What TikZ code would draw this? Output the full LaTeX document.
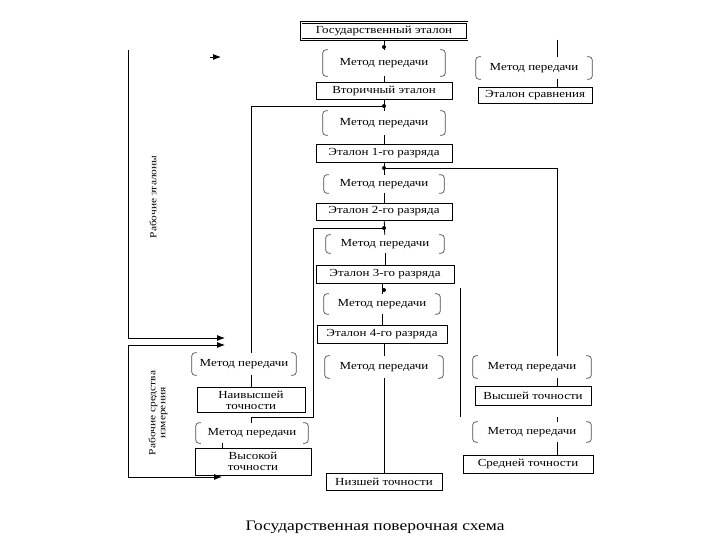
\documentclass[tikz,border=0pt]{standalone}
\usepackage{fontspec}
\setmainfont{Liberation Serif}[FakeStretch=1.2]
\usetikzlibrary{arrows.meta}
\newcommand{\boxfont}{\fontsize{10.8}{11}\selectfont}
\tikzset{box/.style={draw=#1,line width=0.8pt,inner sep=1pt,font=\boxfont,align=center},box/.default=black}
\tikzset{method/.style={inner sep=1pt,font=\boxfont},method/.default=black}
\tikzset{bracket/.style={draw=#1,line width=0.7pt,rounded corners=3pt},bracket/.default=black!70}
\tikzset{link/.style={draw=#1,line width=0.8pt},link/.default=black}
\tikzset{feed/.style={draw=#1,line width=0.8pt,-{Latex[length=8pt,width=6pt]}},feed/.default=black}
\tikzset{side/.style={rotate=90,font=\fontsize{9.5}{10}\selectfont,align=center}}
\newcommand{\brackets}[1]{%
	\draw [bracket] ([xshift=5pt]#1.north west) -- (#1.north west) -- (#1.south west) -- ([xshift=5pt]#1.south west);
	\draw [bracket] ([xshift=-5pt]#1.north east) -- (#1.north east) -- (#1.south east) -- ([xshift=-5pt]#1.south east);}
\newcommand{\junction}[1]{\fill (#1) circle (2pt);}

\begin{document}
\begin{tikzpicture}[x=1pt,y=-1pt]
	\useasboundingbox (0,0) rectangle (720,540);

	% main column
	\node [box,double,double distance=1pt,minimum width=166pt,minimum height=17pt] (gos) at (384,31) {Государственный эталон};
	\node [method,minimum width=122pt,minimum height=26pt] (m1) at (384,63) {Метод передачи};
	\node [box,minimum width=136pt,minimum height=17pt] (vtor) at (384,90.5) {Вторичный эталон};
	\node [method,minimum width=122pt,minimum height=24pt] (m2) at (384,123) {Метод передачи};
	\node [box,minimum width=136pt,minimum height=18pt] (r1) at (384,153) {Эталон 1-го разряда};
	\node [method,minimum width=120pt,minimum height=18pt] (m3) at (384,184) {Метод передачи};
	\node [box,minimum width=136pt,minimum height=17pt] (r2) at (384,211.5) {Эталон 2-го разряда};
	\node [method,minimum width=118pt,minimum height=18pt] (m4) at (385,244) {Метод передачи};
	\node [box,minimum width=138pt,minimum height=18pt] (r3) at (385,274) {Эталон 3-го разряда};
	\node [method,minimum width=116pt,minimum height=20pt] (m5) at (382,304) {Метод передачи};
	\node [box,minimum width=130pt,minimum height=18pt] (r4) at (382,334) {Эталон 4-го разряда};
	\node [method,minimum width=118pt,minimum height=22pt] (m6) at (384,367) {Метод передачи};
	\node [box,minimum width=116pt,minimum height=17pt] (low) at (384,482) {Низшей точности};

	% comparison standard
	\node [method,minimum width=116pt,minimum height=22pt] (mc) at (534,68) {Метод передачи};
	\node [box,minimum width=114pt,minimum height=16pt] (cmp) at (535,95) {Эталон сравнения};

	% left branch
	\node [method,minimum width=104pt,minimum height=22pt] (ml1) at (244,364) {Метод передачи};
	\node [box,minimum width=108pt,minimum height=25pt] (top) at (251,400) {Наивысшей\\точности};
	\node [method,minimum width=112pt,minimum height=20pt] (ml2) at (252,433) {Метод передачи};
	\node [box,minimum width=116pt,minimum height=27pt] (high) at (253,461.5) {Высокой\\точности};

	% right branch
	\node [method,minimum width=118pt,minimum height=22pt] (mr1) at (532,367) {Метод передачи};
	\node [box,minimum width=116pt,minimum height=19pt] (higher) at (533,396) {Высшей точности};
	\node [method,minimum width=118pt,minimum height=20pt] (mr2) at (532,432) {Метод передачи};
	\node [box,minimum width=130pt,minimum height=18pt] (mid) at (528,464) {Средней точности};

	\foreach \m in {m1,m2,m3,m4,m5,m6,mc,ml1,ml2,mr1,mr2} {\brackets{\m}}

	\coordinate (rc) at (557,0);
	\coordinate (lc) at (313,417);
	\coordinate (vc) at (222,0);
	\coordinate (d1) at (384,47);
	\coordinate (d2) at (384,106);
	\coordinate (d3) at (384,168);
	\coordinate (d4) at (384,228);
	\coordinate (d5) at (384,290);

	\draw [link] (gos) -- (m1);
	\draw [link] (m1) -- (vtor);
	\draw [link] (vtor) -- (m2);
	\draw [link] (m2) -- (r1);
	\draw [link] (r1) -- (m3);
	\draw [link] (m3) -- (r2);
	\draw [link] (r2) -- (m4);
	\draw [link] (m4) -- (r3);
	\draw [link] (r3.south -| m5.north) -- (m5);
	\draw [link] (m5) -- (r4);
	\draw [link] (r4.south -| m6.north) -- (m6);
	\draw [link] (m6) -- (low);
	\foreach \d in {d1,d2,d3,d4,d5} {\junction{\d}}

	\draw [link] (cmp.north -| rc) ++(0,-47) coordinate (cs) -- (mc.north -| rc);
	\draw [link] (mc.south -| rc) -- (cmp.north -| rc);

	\draw [link] (d2) -| (ml1.north -| top.north);
	\draw [link] (ml1.south -| top.north) -- (top.north);
	\draw [link] (d4) -| (lc) -| (ml2.north -| top.north);
	\draw [link] (ml2.south -| vc) -- (high.north -| vc);

	\draw [link] (d3) -| (mr1.north -| rc);
	\draw [link] (mr1.south -| rc) -- (higher.north -| rc);
	\draw [link] (460,288) coordinate (ra) -- (460,417) coordinate (rb);
	\draw [link] (mr2.north -| rc) ++(0,-5) -- (mr2.north -| rc);
	\draw [link] (mr2.south -| rc) -- (mid.north -| rc);

	% working standards and instruments
	\draw [feed] (128,50) -- (128,338) -- (225,338);
	\draw [feed] (210,57) -- (221,57);
	\draw [feed] (128,345) -- (128,477) -- (222,477);
	\draw [feed] (128,345) -- (225,345);
	\node [side] (work) at (153,197) {Рабочие эталоны};
	\node [side] (tools) at (158,413) {Рабочие средства\\измерения};

	\node [font=\fontsize{14.5}{16}\selectfont] (title) at (375,527) {Государственная поверочная схема};
\end{tikzpicture}
\end{document}
